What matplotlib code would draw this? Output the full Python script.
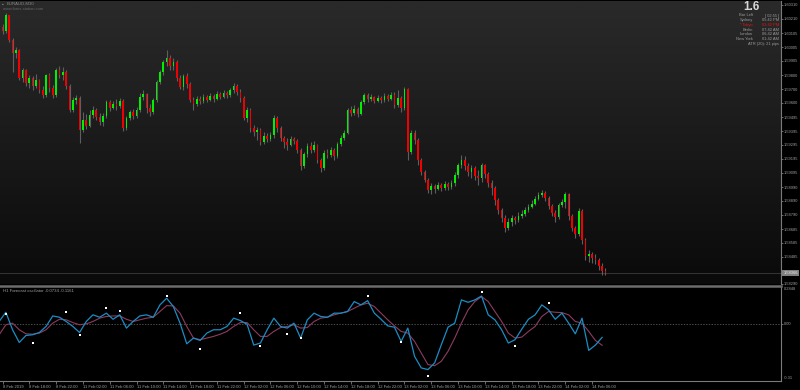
import numpy as np
import matplotlib
matplotlib.use("Agg")
import matplotlib.pyplot as plt
from matplotlib.colors import LinearSegmentedColormap
from matplotlib.lines import Line2D

plt.rcParams['font.family'] = ['Liberation Sans', 'DejaVu Sans']

W, H = 800, 390

# EURAUD M30 bars, 8 Feb 2019 14:00 -> 14 Feb 2019 08:00 (open = previous close)
first_open = 1.60150
close = [
    1.60121, 1.60237, 1.60056, 1.59962, 1.59984, 1.59781, 1.59839, 1.59744, 1.59781, 1.59723,
    1.59766, 1.59694, 1.59657, 1.59802, 1.59708, 1.59657, 1.59839, 1.59802, 1.59824, 1.59723,
    1.59549, 1.59621, 1.59636, 1.59404, 1.59476, 1.59432, 1.59512, 1.59549, 1.59498, 1.59462,
    1.59505, 1.59607, 1.59563, 1.59592, 1.59577, 1.59614, 1.59418, 1.59491, 1.59534, 1.59505,
    1.59549, 1.59643, 1.59664, 1.59563, 1.59534, 1.59621, 1.59752, 1.59824, 1.59896, 1.59926,
    1.59868, 1.59896, 1.59781, 1.59715, 1.59795, 1.59737, 1.59621, 1.59592, 1.59628, 1.59614,
    1.59643, 1.59621, 1.59650, 1.59628, 1.59664, 1.59643, 1.59672, 1.59657, 1.59694, 1.59723,
    1.59679, 1.59636, 1.59491, 1.59549, 1.59418, 1.59389, 1.59404, 1.59317, 1.59360, 1.59338,
    1.59367, 1.59491, 1.59418, 1.59346, 1.59317, 1.59295, 1.59338, 1.59324, 1.59259, 1.59143,
    1.59229, 1.59288, 1.59259, 1.59295, 1.59186, 1.59128, 1.59237, 1.59222, 1.59259, 1.59215,
    1.59302, 1.59346, 1.59382, 1.59549, 1.59527, 1.59556, 1.59519, 1.59607, 1.59657, 1.59628,
    1.59643, 1.59614, 1.59636, 1.59621, 1.59650, 1.59628, 1.59657, 1.59585, 1.59636, 1.59563,
    1.59701, 1.59244, 1.59382, 1.59331, 1.59186, 1.59099, 1.59041, 1.58969, 1.58998, 1.58976,
    1.59005, 1.58983, 1.59012, 1.58990, 1.59019, 1.59077, 1.59150, 1.59186, 1.59143, 1.59099,
    1.59128, 1.59070, 1.59056, 1.59150, 1.59085, 1.59019, 1.58983, 1.58896, 1.58824, 1.58765,
    1.58693, 1.58737, 1.58765, 1.58751, 1.58780, 1.58794, 1.58824, 1.58845, 1.58867, 1.58903,
    1.58932, 1.58947, 1.58911, 1.58853, 1.58802, 1.58773, 1.58860, 1.58882, 1.58940, 1.58780,
    1.58693, 1.58649, 1.58816, 1.58606, 1.58490, 1.58504, 1.58475, 1.58461, 1.58417, 1.58381,
    1.58366,
]
high = [
    1.60172, 1.60252, 1.60237, 1.60071, 1.60005, 1.59991, 1.59853, 1.59846, 1.59802, 1.59795,
    1.59809, 1.59773, 1.59723, 1.59809, 1.59817, 1.59730, 1.59853, 1.59868, 1.59860, 1.59839,
    1.59737, 1.59643, 1.59657, 1.59650, 1.59534, 1.59519, 1.59549, 1.59577, 1.59563, 1.59527,
    1.59527, 1.59621, 1.59621, 1.59614, 1.59628, 1.59636, 1.59628, 1.59505, 1.59549, 1.59556,
    1.59570, 1.59672, 1.59694, 1.59672, 1.59592, 1.59636, 1.59766, 1.59839, 1.59911, 1.59984,
    1.59947, 1.59926, 1.59911, 1.59802, 1.59809, 1.59817, 1.59752, 1.59643, 1.59650, 1.59650,
    1.59664, 1.59657, 1.59672, 1.59664, 1.59686, 1.59679, 1.59694, 1.59686, 1.59708, 1.59744,
    1.59737, 1.59701, 1.59650, 1.59570, 1.59563, 1.59440, 1.59425, 1.59418, 1.59389, 1.59382,
    1.59389, 1.59512, 1.59505, 1.59432, 1.59360, 1.59346, 1.59360, 1.59353, 1.59338, 1.59273,
    1.59244, 1.59309, 1.59317, 1.59324, 1.59302, 1.59201, 1.59259, 1.59266, 1.59280, 1.59273,
    1.59317, 1.59367, 1.59404, 1.59563, 1.59577, 1.59585, 1.59570, 1.59621, 1.59672, 1.59672,
    1.59664, 1.59650, 1.59657, 1.59650, 1.59672, 1.59664, 1.59679, 1.59679, 1.59694, 1.59650,
    1.59715, 1.59708, 1.59404, 1.59404, 1.59346, 1.59201, 1.59114, 1.59056, 1.59019, 1.59012,
    1.59027, 1.59019, 1.59034, 1.59027, 1.59041, 1.59099, 1.59164, 1.59222, 1.59215, 1.59164,
    1.59150, 1.59143, 1.59114, 1.59164, 1.59157, 1.59099, 1.59041, 1.58998, 1.58911, 1.58838,
    1.58787, 1.58765, 1.58787, 1.58780, 1.58809, 1.58824, 1.58845, 1.58867, 1.58896, 1.58925,
    1.58954, 1.58969, 1.58961, 1.58925, 1.58867, 1.58824, 1.58874, 1.58903, 1.58954, 1.58947,
    1.58794, 1.58707, 1.58838, 1.58831, 1.58621, 1.58534, 1.58519, 1.58504, 1.58475, 1.58439,
    1.58403,
]
low = [
    1.60099, 1.60107, 1.60042, 1.59824, 1.59926, 1.59766, 1.59752, 1.59723, 1.59708, 1.59694,
    1.59708, 1.59672, 1.59636, 1.59643, 1.59679, 1.59636, 1.59643, 1.59781, 1.59766, 1.59701,
    1.59534, 1.59534, 1.59592, 1.59309, 1.59389, 1.59411, 1.59425, 1.59491, 1.59476, 1.59440,
    1.59432, 1.59491, 1.59541, 1.59556, 1.59549, 1.59563, 1.59396, 1.59404, 1.59476, 1.59483,
    1.59491, 1.59534, 1.59621, 1.59527, 1.59505, 1.59519, 1.59607, 1.59737, 1.59802, 1.59868,
    1.59839, 1.59839, 1.59759, 1.59701, 1.59694, 1.59708, 1.59607, 1.59549, 1.59577, 1.59592,
    1.59599, 1.59607, 1.59614, 1.59607, 1.59621, 1.59628, 1.59636, 1.59636, 1.59643, 1.59672,
    1.59657, 1.59607, 1.59476, 1.59462, 1.59389, 1.59360, 1.59331, 1.59295, 1.59302, 1.59317,
    1.59324, 1.59346, 1.59389, 1.59324, 1.59273, 1.59259, 1.59288, 1.59302, 1.59237, 1.59114,
    1.59128, 1.59208, 1.59237, 1.59244, 1.59164, 1.59099, 1.59114, 1.59201, 1.59208, 1.59186,
    1.59201, 1.59288, 1.59331, 1.59374, 1.59505, 1.59512, 1.59498, 1.59512, 1.59592, 1.59607,
    1.59614, 1.59599, 1.59607, 1.59599, 1.59607, 1.59614, 1.59621, 1.59563, 1.59570, 1.59534,
    1.59549, 1.59186, 1.59230, 1.59302, 1.59150, 1.59077, 1.59027, 1.58947, 1.58940, 1.58947,
    1.58969, 1.58961, 1.58969, 1.58969, 1.58976, 1.58998, 1.59056, 1.59128, 1.59114, 1.59070,
    1.59056, 1.59041, 1.59005, 1.59027, 1.59056, 1.58990, 1.58932, 1.58860, 1.58794, 1.58737,
    1.58664, 1.58679, 1.58707, 1.58722, 1.58737, 1.58765, 1.58780, 1.58809, 1.58838, 1.58860,
    1.58896, 1.58918, 1.58889, 1.58831, 1.58780, 1.58737, 1.58758, 1.58845, 1.58838, 1.58751,
    1.58671, 1.58621, 1.58635, 1.58577, 1.58461, 1.58446, 1.58439, 1.58432, 1.58388, 1.58352,
    1.58352,
]

price_ticks = [1.60310, 1.60210, 1.60105, 1.60005, 1.59905, 1.59800, 1.59700, 1.59600,
               1.59495, 1.59395, 1.59295, 1.59195, 1.59095, 1.58990, 1.58890, 1.58790,
               1.58685, 1.58585, 1.58485, 1.58290]
last_price = 1.58366

date_tick_bars = list(range(0, 177, 8))
date_tick_labels = ["8 Feb 2019", "8 Feb 18:00", "8 Feb 22:00",
                    "11 Feb 02:00", "11 Feb 06:00", "11 Feb 10:00", "11 Feb 14:00",
                    "11 Feb 18:00", "11 Feb 22:00",
                    "12 Feb 02:00", "12 Feb 06:00", "12 Feb 10:00", "12 Feb 14:00",
                    "12 Feb 18:00", "12 Feb 22:00",
                    "13 Feb 02:00", "13 Feb 06:00", "13 Feb 10:00", "13 Feb 14:00",
                    "13 Feb 18:00", "13 Feb 22:00",
                    "14 Feb 02:00", "14 Feb 06:00"]

# H1 forecast oscillator, one value per hour (every second M30 bar)
osc = [
    0.013, 0.063, -0.032, -0.101, -0.063, -0.059, -0.047, -0.014, 0.043, 0.036,
    0.013, -0.014, -0.047, 0.013, 0.049, 0.036, 0.058, 0.025, 0.049, -0.023,
    0.013, 0.043, 0.049, 0.036, 0.103, 0.139, 0.094, 0.004, -0.108, -0.077,
    -0.090, -0.050, -0.032, -0.032, -0.014, 0.031, 0.018, -0.002, -0.115, -0.104,
    -0.032, 0.031, -0.014, -0.023, 0.004, -0.077, 0.022, 0.058, 0.040, 0.036,
    0.058, 0.058, 0.067, 0.121, 0.103, 0.126, 0.058, 0.025, -0.011, -0.018,
    -0.095, -0.023, -0.176, -0.239, -0.248, -0.212, -0.113, -0.018, 0.004, 0.130,
    0.117, 0.130, 0.151, 0.049, 0.022, -0.032, -0.104, -0.086, -0.029, 0.025,
    0.049, 0.103, 0.076, 0.025, 0.058, 0.004, -0.054, 0.031, -0.144, -0.115, -0.0734,
]
sig = [
    -0.059, -0.005, 0.004, -0.032, -0.054, -0.056, -0.050, -0.032, 0.004, 0.025,
    0.022, 0.007, -0.005, 0.000, 0.013, 0.031, 0.040, 0.043, 0.043, 0.025,
    0.013, 0.022, 0.031, 0.036, 0.067, 0.099, 0.097, 0.058, -0.014, -0.077,
    -0.086, -0.077, -0.068, -0.056, -0.041, -0.014, 0.007, 0.007, -0.032, -0.068,
    -0.068, -0.041, -0.020, -0.014, -0.005, -0.023, -0.020, 0.013, 0.031, 0.036,
    0.049, 0.058, 0.067, 0.085, 0.103, 0.112, 0.094, 0.058, 0.022, -0.011,
    -0.041, -0.050, -0.095, -0.158, -0.221, -0.227, -0.203, -0.149, -0.077, 0.004,
    0.076, 0.121, 0.148, 0.121, 0.067, 0.013, -0.050, -0.077, -0.072, -0.041,
    -0.014, 0.040, 0.067, 0.063, 0.061, 0.049, 0.013, 0.004, -0.041, -0.090, -0.1161,
]
dot_hours = [1, 5, 10, 12, 16, 18, 25, 30, 36, 39, 43, 45, 55, 60, 64, 72, 77, 82]
dot_vals = [0.052, -0.104, 0.066, -0.059, 0.088, 0.072, 0.153, -0.135, 0.061, -0.119,
            -0.056, -0.077, 0.153, -0.099, -0.285, 0.174, -0.119, 0.112]


def fx(px):
    return px / W


def fy(py):
    return 1 - py / H


TXT = '#a0a0a0'
AXC = '#7a7a7a'
FS = 2.9

fig = plt.figure(figsize=(W / 100, H / 100), dpi=100, facecolor='black')
ax = fig.add_axes([0, fy(284), fx(781), (284 - 1) / H])
ax_ind = fig.add_axes([0, fy(381), fx(781), (381 - 287) / H])

xlim = (-0.75, 232.4)
ylim = (1.58287, 1.60339)

# --- price panel ---
grad = np.linspace(0, 1, 256).reshape(-1, 1)
cmap = LinearSegmentedColormap.from_list('bg', ['#0a0a0a', '#2a2a2a'])
ax.imshow(grad, extent=[xlim[0], xlim[1], ylim[0], ylim[1]], origin='lower',
          aspect='auto', cmap=cmap, zorder=0)

c = np.array(close)
o = np.r_[first_open, c[:-1]]
hi = np.array(high)
lo = np.array(low)
idx = np.arange(len(c))
up = c >= o
body = np.where(np.abs(c - o) < 0.00004, np.where(up, 0.00004, -0.00004), c - o)

ax.axhline(last_price, color='#3c3c3c', lw=0.6, zorder=1)
ax.vlines(idx, lo, hi, color='#5e5e5e', lw=0.8, zorder=2)
ax.bar(idx, body, bottom=o, width=0.5, color=np.where(up, '#00f000', '#f00000'),
       linewidth=0, zorder=3)

ax.set_xlim(*xlim)
ax.set_ylim(*ylim)
ax.set_facecolor('#111111')
ax.yaxis.tick_right()
ax.set_yticks(price_ticks)
ax.set_yticklabels([f'{p:.5f}' for p in price_ticks])
ax.tick_params(axis='y', colors=AXC, labelcolor=TXT, labelsize=FS, length=1.5, width=0.6, pad=0.8)
ax.set_xticks([])
for s in ['top', 'left', 'bottom']:
    ax.spines[s].set_visible(False)
ax.spines['right'].set_color(AXC)
ax.spines['right'].set_linewidth(0.8)

ax.text(1.003, (last_price - ylim[0]) / (ylim[1] - ylim[0]), f'{last_price:.5f}',
        transform=ax.transAxes, fontsize=FS, color='#f0f0f0', va='center',
        ha='left', bbox=dict(boxstyle='square,pad=0.3', fc='#808080', ec='none'), clip_on=False)

# --- oscillator panel ---
ax_ind.set_facecolor('black')
hx = np.arange(len(osc)) * 2 - 1
ax_ind.axhline(0, color='#6a6a6a', lw=0.5, ls=(0, (2, 2)))
ax_ind.plot(hx, sig, color='#8e3b60', lw=0.8)
ax_ind.plot(hx, osc, color='#1c8dc4', lw=0.9)
ax_ind.scatter(np.array(dot_hours) * 2 - 1, dot_vals, s=1.3, marker='s', color='white',
               linewidths=0, zorder=4)
ax_ind.set_xlim(*xlim)
ax_ind.set_ylim(-0.31, 0.20)
ax_ind.yaxis.tick_right()
ax_ind.set_yticks([0])
ax_ind.set_yticklabels([''])
ax_ind.set_xticks(date_tick_bars)
ax_ind.set_xticklabels(date_tick_labels, ha='left')
ax_ind.tick_params(axis='x', colors=AXC, labelcolor=TXT, labelsize=FS + 0.1, length=2,
                   width=0.6, pad=1)
ax_ind.tick_params(axis='y', colors=AXC, length=1.5, width=0.6)
for s in ['top', 'left']:
    ax_ind.spines[s].set_visible(False)
for s in ['right', 'bottom']:
    ax_ind.spines[s].set_color(AXC)
    ax_ind.spines[s].set_linewidth(0.8)

for val, py in [('0.2848', 289), ('0.00', 324), ('-0.31', 378)]:
    fig.text(fx(783.5), fy(py), val, fontsize=FS, color=TXT, va='center')
fig.text(fx(3), fy(290.5), 'H1 Forecast oscillator -0.0734 -0.1161', fontsize=FS + 0.2,
         color=TXT, va='center')

# panel separator
fig.add_artist(Line2D([0, fx(781)], [fy(285.5), fy(285.5)], color='#6c6c6c', lw=1.8))

# --- header texts ---
fig.text(fx(2), fy(4), '\u25aa', fontsize=3.5, color='#8a8a8a', va='center')
fig.text(fx(7), fy(4), 'EURAUD,M30', fontsize=FS + 0.2, color='#8a8a8a', va='center')
fig.text(fx(3), fy(9), 'www.forex-station.com', fontsize=FS, color='#666666', va='center')

fig.text(fx(751), fy(7.5), '1.6', fontsize=8.5, color='#d6d6d6', fontweight='bold',
         ha='center', va='center')
info_labels = ['Bar Left', 'Sydney', '* Tokyo', 'Berlin', 'London', 'New York']
info_values = ['[ 02:55 ]', '05:42 PM', '03:42 PM', '07:42 AM', '06:42 AM', '01:42 AM']
for n, (lab, val) in enumerate(zip(info_labels, info_values)):
    col = '#e01515' if 'Tokyo' in lab else '#9a9a9a'
    yy = fy(15.5 + n * 4.7)
    fig.text(fx(753), yy, lab, fontsize=FS, color=col, ha='right', va='center')
    fig.text(fx(779), yy, val, fontsize=FS, color=col, ha='right', va='center')
fig.text(fx(779), fy(15.5 + 6 * 4.7), 'ATR (20): 21 pips', fontsize=FS,
         color='#9a9a9a', ha='right', va='center')

fig.savefig('out.png', dpi=100, facecolor='black')
